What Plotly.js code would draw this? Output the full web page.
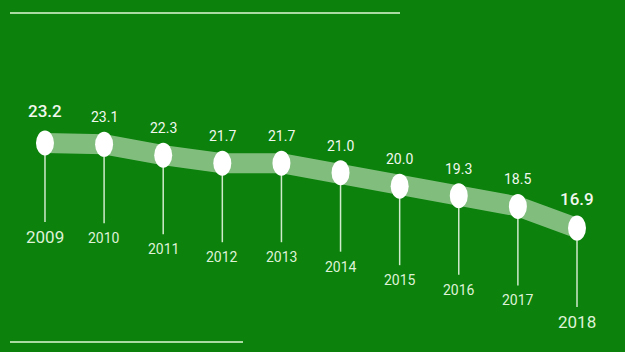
<!DOCTYPE html>
<html>
<head>
<meta charset="utf-8">
<script src="https://cdn.plot.ly/plotly-3.0.1.min.js"></script>
<style>
  html, body { margin: 0; padding: 0; background: #0c820c; }
  #chart { width: 625px; height: 352px; }
</style>
</head>
<body>
<div id="chart"></div>
<script>
// Yearly values, 2009–2018
const years = [2009, 2010, 2011, 2012, 2013, 2014, 2015, 2016, 2017, 2018];
const values = [23.2, 23.1, 22.3, 21.7, 21.7, 21.0, 20.0, 19.3, 18.5, 16.9];
const valueLabels = ['23.2', '23.1', '22.3', '21.7', '21.7', '21.0', '20.0', '19.3', '18.5', '16.9'];
const yearLabels = ['2009', '2010', '2011', '2012', '2013', '2014', '2015', '2016', '2017', '2018'];

const BG = '#0c820c';
const FONT = 'Roboto, "Open Sans", sans-serif';
const STEM = 5.85; // stem length below each point, in value units

// Pale translucent band joining the points
const band = {
  x: years, y: values, type: 'scatter', mode: 'lines',
  line: { color: 'rgba(225,240,220,0.55)', width: 20 },
  hoverinfo: 'skip'
};

// Thin white stems hanging from each point toward its year label
const stems = {
  x: years, y: values, type: 'scatter', mode: 'markers',
  marker: { size: 1, color: 'rgba(0,0,0,0)' },
  error_y: {
    type: 'data', symmetric: false,
    array: years.map(() => 0),
    arrayminus: years.map(() => STEM),
    color: 'rgba(230,245,225,0.9)', thickness: 1.5, width: 0
  },
  hoverinfo: 'skip'
};

const lastIdx = years.length - 1;
const isEnd = i => i === 0 || i === lastIdx;

// White oval markers, anchored to the data points
const shapes = years.map((yr, i) => ({
  type: 'circle', layer: 'above',
  xref: 'x', yref: 'y',
  xsizemode: 'pixel', ysizemode: 'pixel',
  xanchor: yr, yanchor: values[i],
  x0: -9, x1: 9, y0: -12.5, y1: 12.5,
  fillcolor: '#ffffff', line: { width: 0 }
}));

// Decorative rules at the top and bottom
shapes.push({
  type: 'line', xref: 'paper', yref: 'paper',
  x0: 10 / 625, x1: 400 / 625, y0: 1 - 13 / 352, y1: 1 - 13 / 352,
  line: { color: 'rgba(200,235,190,0.85)', width: 2 }
});
shapes.push({
  type: 'line', xref: 'paper', yref: 'paper',
  x0: 10 / 625, x1: 243 / 625, y0: 1 - 342 / 352, y1: 1 - 342 / 352,
  line: { color: 'rgba(200,235,190,0.85)', width: 2 }
});

const annotations = [];
years.forEach((yr, i) => {
  annotations.push({
    x: yr, y: values[i], xref: 'x', yref: 'y',
    text: valueLabels[i], showarrow: false,
    yshift: i === 0 ? 32 : (i === lastIdx ? 29 : 27),
    font: { family: FONT, size: isEnd(i) ? 17 : 14, color: '#f2f8ef', weight: isEnd(i) ? 500 : 400 }
  });
  annotations.push({
    x: yr, y: values[i], xref: 'x', yref: 'y',
    text: yearLabels[i], showarrow: false,
    yshift: -94,
    font: { family: FONT, size: isEnd(i) ? 17 : 14, color: '#dff2d8' }
  });
});

const layout = {
  width: 625, height: 352,
  margin: { l: 0, r: 0, t: 0, b: 0 },
  paper_bgcolor: BG, plot_bgcolor: BG,
  showlegend: false,
  xaxis: { range: [2008.239, 2018.812], visible: false, fixedrange: true },
  yaxis: { range: [7.72, 33.79], visible: false, fixedrange: true },
  shapes: shapes,
  annotations: annotations
};

Plotly.newPlot('chart', [band, stems], layout, { displayModeBar: false, staticPlot: true });
</script>
</body>
</html>
